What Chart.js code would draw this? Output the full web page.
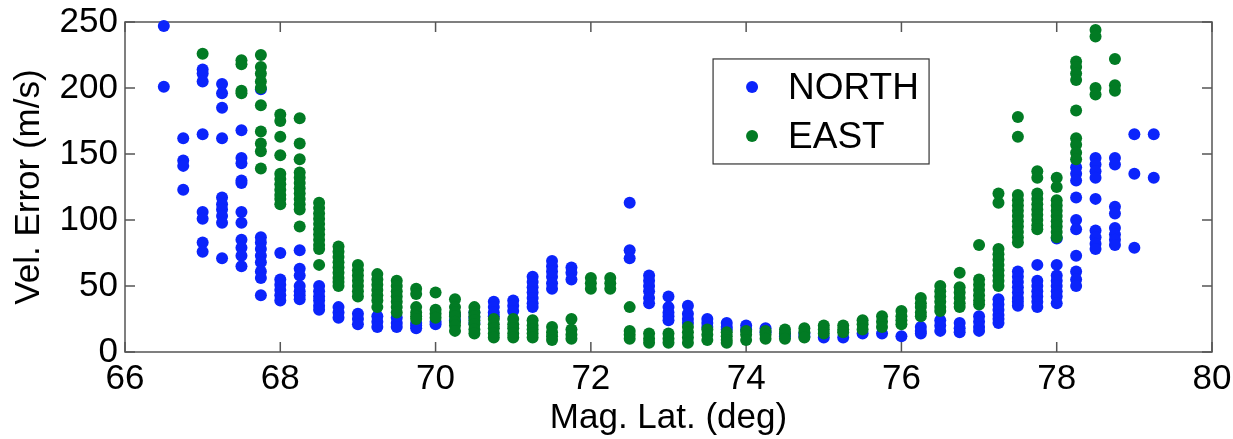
<!DOCTYPE html>
<html>
<head>
<meta charset="utf-8">
<script src="https://cdn.jsdelivr.net/npm/chart.js@4/dist/chart.umd.min.js"></script>
<style>
  html, body { margin: 0; padding: 0; background: #fff; }
  canvas { display: block; }
</style>
</head>
<body>
<canvas id="vel-chart" width="1233" height="439"></canvas>
<script>
// latitude bins (deg) and the velocity errors (m/s) measured in each bin
const latitudes = [
    66.5, 66.75, 67, 67.25, 67.5, 67.75, 68, 68.25, 68.5, 68.75,
    69, 69.25, 69.5, 69.75, 70, 70.25, 70.5, 70.75, 71, 71.25,
    71.5, 71.75, 72, 72.25, 72.5, 72.75, 73, 73.25, 73.5, 73.75,
    74, 74.25, 74.5, 74.75, 75, 75.25, 75.5, 75.75, 76, 76.25,
    76.5, 76.75, 77, 77.25, 77.5, 77.75, 78, 78.25, 78.5, 78.75,
    79, 79.25
];

const northErr = [
    [247, 201],
    [162, 145, 141, 123],
    [214, 211, 205, 165, 106, 101, 83, 76],
    [203, 196, 185, 162, 117, 112, 108, 103, 98, 71],
    [168, 147, 143, 130, 128, 106, 98, 85, 79, 73, 65],
    [199, 87, 83, 78, 73, 68, 61, 56, 43],
    [75, 55, 51, 47, 43, 39],
    [77, 63, 58, 50, 46, 43, 40],
    [50, 46, 42, 39, 35, 32],
    [34, 30, 26],
    [29, 25, 21],
    [27, 23, 19],
    [26, 22, 19],
    [22, 20, 18],
    [23, 21],
    [28, 24],
    [30, 26, 22],
    [38, 34, 30, 27],
    [39, 35, 31],
    [57, 53, 49, 45, 41, 37, 34],
    [69, 65, 61, 57, 52, 48],
    [64, 60, 55],
    [],
    [],
    [113, 77, 71],
    [58, 54, 50, 46, 41, 37],
    [42, 34, 30, 27, 24],
    [35, 29, 25, 22],
    [25, 22, 19],
    [22, 19, 17],
    [20, 17],
    [18, 15],
    [14, 12],
    [14, 12],
    [11],
    [11],
    [14],
    [14],
    [12],
    [19, 16, 14],
    [24, 20, 16],
    [22, 18, 15],
    [27, 23, 19, 16],
    [40, 36, 32, 28, 25, 22],
    [61, 57, 53, 49, 45, 41, 38, 35],
    [66, 54, 50, 46, 42, 38, 34],
    [86, 66, 58, 54, 50, 46, 42, 37],
    [140, 135, 130, 117, 100, 93, 73, 61, 55, 50],
    [147, 142, 137, 132, 116, 92, 87, 82, 78],
    [147, 142, 110, 105, 94, 89, 85, 81],
    [165, 135, 79],
    [165, 132]
];

const eastErr = [
    [],
    [],
    [226],
    [],
    [221, 218, 198, 196],
    [225, 216, 211, 205, 200, 187, 167, 158, 152, 139],
    [180, 175, 163, 149, 135, 131, 127, 123, 119, 116, 112],
    [177, 158, 146, 136, 132, 128, 124, 120, 116, 112, 108, 95],
    [113, 109, 105, 101, 97, 93, 89, 85, 81, 78, 66],
    [80, 76, 72, 68, 64, 60, 56, 53, 50],
    [66, 62, 58, 54, 50, 46, 42],
    [59, 55, 51, 47, 43, 39, 34],
    [54, 50, 46, 42, 38, 34, 30],
    [48, 44, 34, 30, 27, 25],
    [45, 32, 29, 26],
    [40, 34, 30, 27, 23, 20, 16],
    [34, 30, 27, 24, 21, 17, 14],
    [25, 21, 18, 14, 11],
    [25, 21, 18, 14, 11],
    [24, 20, 17, 14, 11],
    [19, 15, 12, 9],
    [25, 17, 13, 10],
    [56, 52, 48],
    [56, 52, 48],
    [34, 16, 13, 10],
    [14, 10, 7],
    [14, 10, 7],
    [19, 15, 11, 7],
    [17, 13, 9],
    [15, 12, 9, 7],
    [16, 13, 9],
    [16, 13, 10],
    [17, 14, 10],
    [18, 15, 11],
    [20, 17, 14],
    [20, 17, 15],
    [24, 21, 17],
    [27, 23, 19],
    [31, 27, 24, 21],
    [41, 37, 34, 30, 27],
    [50, 46, 42, 38, 34, 31],
    [60, 49, 45, 41, 37, 34],
    [81, 55, 51, 47, 43, 39, 36],
    [120, 113, 78, 74, 70, 66, 62, 58, 54, 50],
    [178, 163, 119, 115, 111, 107, 103, 99, 95, 91, 87, 83],
    [137, 132, 120, 116, 112, 108, 104, 100, 96, 93],
    [132, 125, 115, 111, 107, 103, 99, 95, 91, 87],
    [220, 216, 211, 206, 183, 162, 157, 151, 146],
    [244, 239, 200, 195],
    [222, 202, 198],
    [],
    []
];

const xTicks = [66, 68, 70, 72, 74, 76, 78, 80];
const yTicks = [0, 50, 100, 150, 200, 250];

const BLUE = "#0b24fb";
const GREEN = "#027b24";
const FONT = "'Liberation Sans', Arial, Helvetica, sans-serif";

function toPoints(cols) {
    const pts = [];
    cols.forEach((vals, i) => {
        vals.forEach(v => pts.push({ x: latitudes[i], y: v }));
    });
    return pts;
}

// MATLAB-style frame: full box with inward ticks on all four sides
const boxAxes = {
    id: "boxAxes",
    beforeDatasetsDraw(chart) {
        const { ctx, chartArea: a, scales } = chart;
        const len = 10;
        ctx.save();
        ctx.strokeStyle = "#555";
        ctx.lineWidth = 1.5;
        ctx.strokeRect(a.left, a.top, a.right - a.left, a.bottom - a.top);
        ctx.beginPath();
        scales.x.ticks.forEach(t => {
            const px = scales.x.getPixelForValue(t.value);
            ctx.moveTo(px, a.bottom); ctx.lineTo(px, a.bottom - len);
            ctx.moveTo(px, a.top); ctx.lineTo(px, a.top + len);
        });
        scales.y.ticks.forEach(t => {
            const py = scales.y.getPixelForValue(t.value);
            ctx.moveTo(a.left, py); ctx.lineTo(a.left + len, py);
            ctx.moveTo(a.right, py); ctx.lineTo(a.right - len, py);
        });
        ctx.stroke();
        ctx.restore();
    },
    afterDatasetsDraw(chart) {
        // boxed legend inside the plot
        const { ctx, chartArea: a } = chart;
        const w = a.right - a.left, h = a.bottom - a.top;
        const bx = a.left + 0.541 * w, by = a.top + 0.112 * h;
        const bw = 216, bh = 105;
        ctx.save();
        ctx.fillStyle = "#fff";
        ctx.fillRect(bx, by, bw, bh);
        ctx.strokeStyle = "#333";
        ctx.lineWidth = 1.2;
        ctx.strokeRect(bx, by, bw, bh);
        ctx.font = "37px " + FONT;
        ctx.textBaseline = "middle";
        chart.data.datasets.forEach((ds, i) => {
            const cy = by + 28 + i * 49;
            ctx.fillStyle = ds.backgroundColor;
            ctx.beginPath();
            ctx.arc(bx + 39, cy, 6, 0, Math.PI * 2);
            ctx.fill();
            ctx.fillStyle = "#000";
            ctx.fillText(ds.label, bx + 75, cy + 2);
        });
        ctx.restore();
    }
};

new Chart(document.getElementById("vel-chart"), {
    type: "scatter",
    data: {
        datasets: [
            {
                label: "NORTH",
                data: toPoints(northErr),
                backgroundColor: BLUE,
                borderWidth: 0,
                pointRadius: 6,
                pointHoverRadius: 6,
                clip: false,
                order: 2
            },
            {
                label: "EAST",
                data: toPoints(eastErr),
                backgroundColor: GREEN,
                borderWidth: 0,
                pointRadius: 6,
                pointHoverRadius: 6,
                clip: false,
                order: 1
            }
        ]
    },
    options: {
        responsive: false,
        animation: false,
        devicePixelRatio: 1,
        layout: { padding: { top: 22, right: 21, left: 0, bottom: 0 } },
        plugins: {
            legend: { display: false },
            tooltip: { enabled: false }
        },
        scales: {
            x: {
                type: "linear",
                min: 66,
                max: 80,
                afterBuildTicks: s => { s.ticks = xTicks.map(v => ({ value: v })); },
                afterFit: s => { s.height = 87; s.paddingLeft = 0; s.paddingRight = 0; },
                grid: { display: false, drawTicks: false },
                border: { display: false },
                ticks: { color: "#000", padding: 6, font: { family: FONT, size: 35 } },
                title: {
                    display: true,
                    text: "Mag. Lat. (deg)",
                    color: "#000",
                    font: { family: FONT, size: 35 },
                    padding: { top: 3, bottom: 0 }
                }
            },
            y: {
                min: 0,
                max: 250,
                afterBuildTicks: s => { s.ticks = yTicks.map(v => ({ value: v })); },
                afterFit: s => { s.width = 125; s.paddingTop = 0; s.paddingBottom = 0; },
                grid: { display: false, drawTicks: false },
                border: { display: false },
                ticks: { color: "#000", padding: 7, font: { family: FONT, size: 35 } },
                title: {
                    display: true,
                    text: "Vel. Error (m/s)",
                    color: "#000",
                    font: { family: FONT, size: 35 },
                    padding: { top: 8, bottom: 0 }
                }
            }
        }
    },
    plugins: [boxAxes]
});
</script>
</body>
</html>
